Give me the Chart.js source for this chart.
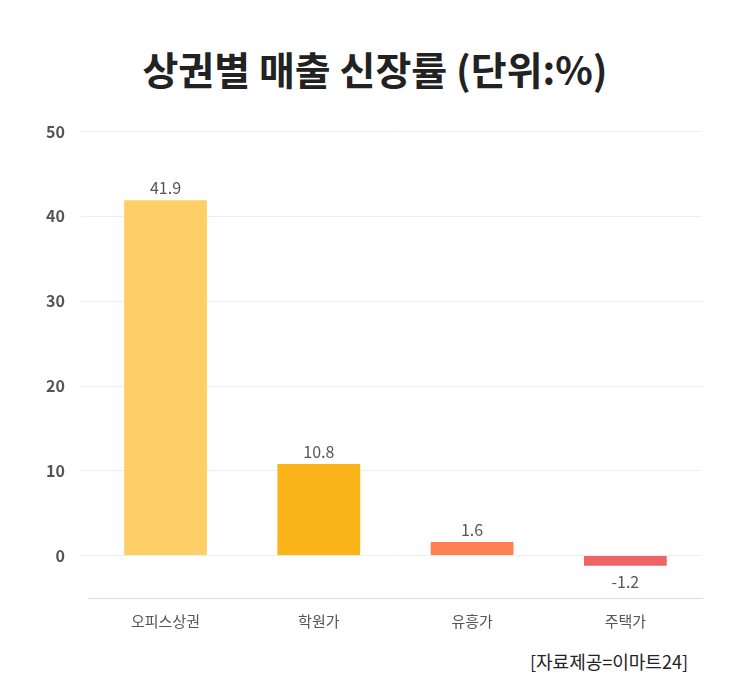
<!DOCTYPE html>
<html><head><meta charset="utf-8">
<script src="https://cdn.jsdelivr.net/npm/chart.js@4/dist/chart.umd.min.js"></script>
<style>
body{margin:0;background:#fff;font-family:"Noto Sans CJK KR",sans-serif;}
#wrap{position:absolute;left:0;top:0;width:750px;height:700px;}
h1{position:absolute;top:40px;left:0;width:750px;margin:0;text-align:center;font-size:39px;font-weight:bold;color:#222;}
#src{position:absolute;top:648px;right:62px;font-size:18px;color:#222;}
#box{position:absolute;left:30px;top:106px;width:680px;height:530px;}
</style></head>
<body><div id="wrap">
<h1>상권별 매출 신장률 (단위:%)</h1>
<div id="box"><canvas id="c"></canvas></div>
<div id="src">[자료제공=이마트24]</div>
</div>
<script>
const categories=['오피스상권','학원가','유흥가','주택가'];
const values=[41.9,10.8,1.6,-1.2];
const colors=['#FDCF66','#FBB41A','#FE7F50','#EF6566'];

const labelPlugin={id:'lbl',afterDatasetsDraw(chart){
  const ctx=chart.ctx;const meta=chart.getDatasetMeta(0);
  ctx.save();ctx.font='16px "Noto Sans CJK KR"';ctx.fillStyle='#555';ctx.textAlign='center';
  meta.data.forEach((b,i)=>{
    const v=values[i];
    if(v>=0){ctx.textBaseline='bottom';ctx.fillText(v.toString(),b.x,b.y-4);}
    else{ctx.textBaseline='top';ctx.fillText(v.toString(),b.x,b.y+8);}
  });ctx.restore();
}};

new Chart(document.getElementById('c'),{
type:'bar',
data:{labels:categories,datasets:[{data:values,backgroundColor:colors,barPercentage:0.54,categoryPercentage:1}]},
options:{responsive:true,maintainAspectRatio:false,animation:false,
layout:{padding:{top:18,right:8}},
plugins:{legend:{display:false},tooltip:{enabled:false}},
scales:{
x:{grid:{display:false},border:{color:'#ddd'},ticks:{color:'#555',font:{size:15,family:'Noto Sans CJK KR'},padding:6}},
y:{min:-5,max:50,afterBuildTicks(ax){ax.ticks=[0,10,20,30,40,50].map(v=>({value:v}));},
grid:{color:'#eee'},border:{display:false},
ticks:{color:'#555',font:{size:16,family:'Noto Sans CJK KR',weight:'bold'},padding:16}}
}},
plugins:[labelPlugin]
});
</script>
</body></html>
